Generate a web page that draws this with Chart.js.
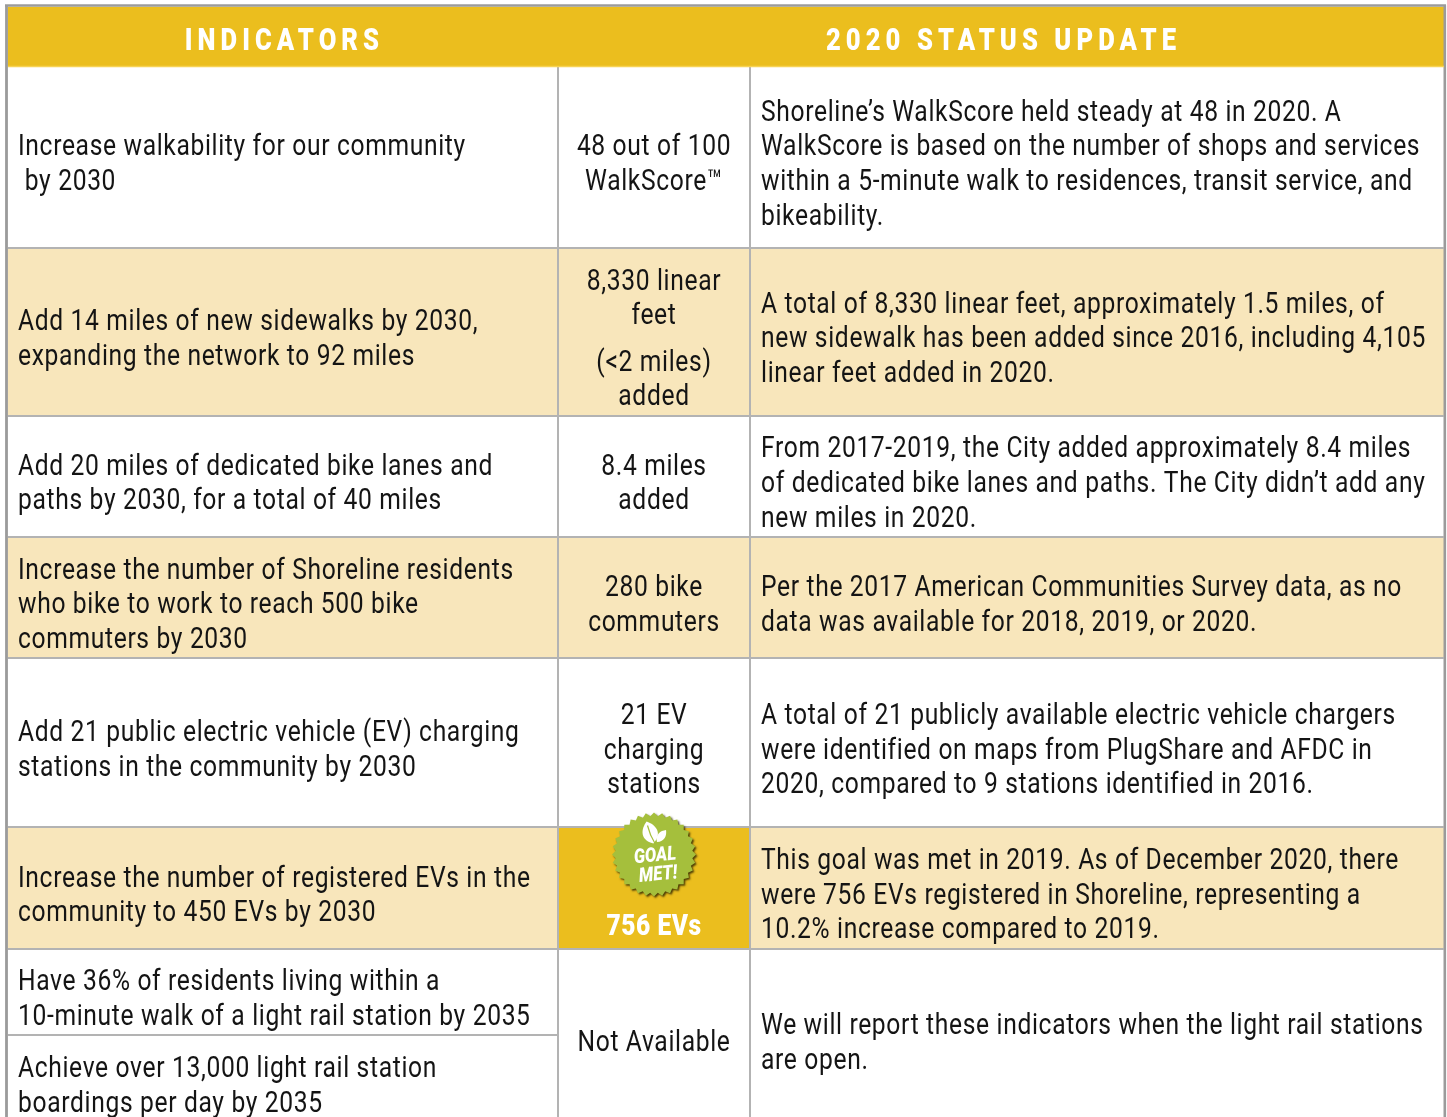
<!DOCTYPE html>
<html><head><meta charset="utf-8">
<style>html,body{margin:0;padding:0;background:#fff}canvas{display:block}</style>
<script src="https://cdn.jsdelivr.net/npm/chart.js@4"></script>
</head><body><canvas id="c" width="1447" height="1117"></canvas>
<script>
const headers = ["INDICATORS", "2020 STATUS UPDATE"];
const indicators = [
 ["Increase walkability for our community", " by 2030"],
 ["Add 14 miles of new sidewalks by 2030,", "expanding the network to 92 miles"],
 ["Add 20 miles of dedicated bike lanes and", "paths by 2030, for a total of 40 miles"],
 ["Increase the number of Shoreline residents", "who bike to work to reach 500 bike", "commuters by 2030"],
 ["Add 21 public electric vehicle (EV) charging", "stations in the community by 2030"],
 ["Increase the number of registered EVs in the", "community to 450 EVs by 2030"],
 ["Have 36% of residents living within a", "10-minute walk of a light rail station by 2035"],
 ["Achieve over 13,000 light rail station", "boardings per day by 2035"]
];
const measures = [
 ["48 out of 100", "WalkScore\u2122"],
 ["8,330 linear", "feet", "(<2 miles)", "added"],
 ["8.4 miles", "added"],
 ["280 bike", "commuters"],
 ["21 EV", "charging", "stations"],
 ["756 EVs"],
 ["Not Available"]
];
const statuses = [
 ["Shoreline\u2019s WalkScore held steady at 48 in 2020. A", "WalkScore is based on the number of shops and services", "within a 5-minute walk to residences, transit service, and", "bikeability."],
 ["A total of 8,330 linear feet, approximately 1.5 miles, of", "new sidewalk has been added since 2016, including 4,105", "linear feet added in 2020."],
 ["From 2017-2019, the City added approximately 8.4 miles", "of dedicated bike lanes and paths. The City didn\u2019t add any", "new miles in 2020."],
 ["Per the 2017 American Communities Survey data, as no", "data was available for 2018, 2019, or 2020."],
 ["A total of 21 publicly available electric vehicle chargers", "were identified on maps from PlugShare and AFDC in", "2020, compared to 9 stations identified in 2016."],
 ["This goal was met in 2019. As of December 2020, there", "were 756 EVs registered in Shoreline, representing a", "10.2% increase compared to 2019."],
 ["We will report these indicators when the light rail stations", "are open."]
];
const badgeLines = ["GOAL", "MET!"];

/* layout */
const indicatorY = [[145,180],[320,355],[465,499],[569,603,638],[731,766],[877,911],[980,1015],[1067,1102]];
const measureY = [[145,180],[280,314,361,395],[465,499],[586,621],[714,749,783],[924],[1041]];
const statusY = [[111,145,180,215],[303,337,372],[447,482,517],[586,621],[714,749,783],[859,894,928],[1024,1059]];
const colX = [8, 558, 750, 1444];
const rowY = [66, 248, 416, 537, 658, 827, 949, 1117];
const rowFill = ["#ffffff", "#f8e6bb", "#ffffff", "#f8e6bb", "#ffffff", "#f8e6bb", "#ffffff"];
const GOLD = "#ebbe1e", LINE = "#b3b3b3", FRAME = "#9b9b9b";

const bars = [];
function band(x0, x1, y0, y1, color, order) {
  bars.push({type:"bar", indexAxis:"y", grouped:false, barThickness:y1-y0, backgroundColor:color, borderWidth:0,
    data:[{x:[x0,x1], y:(y0+y1)/2}], order:order});
}
function rule(x0, y0, x1, y1, color, w) {
  bars.push({type:"line", borderColor:color, borderWidth:w, pointRadius:0, fill:false, tension:0, order:1,
    data:[{x:x0,y:y0},{x:x1,y:y1}]});
}
band(colX[0], colX[3], 7, rowY[0], GOLD, 5);
rowFill.forEach((c,i)=>band(colX[0], colX[3], rowY[i], rowY[i+1], c, 5));
band(colX[1], colX[2], rowY[5], rowY[6], GOLD, 4);
rule(colX[0], 66.5, colX[3], 66.5, "#f7d354", 1.5);
[1,2].forEach(i=>rule(colX[i], rowY[0], colX[i], rowY[7], LINE, 2));
rowY.slice(1,7).forEach(y=>rule(colX[0], y, colX[3], y, LINE, 2));
rule(colX[0], 1035, colX[1], 1035, LINE, 2);
rule(5, 5.5, 1446, 5.5, FRAME, 2.6);
rule(6.5, 5.5, 6.5, 1117, FRAME, 2.8);
rule(1444.8, 5.5, 1444.8, 1117, FRAME, 2.6);

const SX = 0.85, FS = 29, TRACK = "0.75px", BODY = `${FS}px Roboto`;
function stretched(ctx, s, x, y, align, sx) {
  ctx.save();
  ctx.translate(x, y);
  ctx.scale(sx, 1);
  ctx.textAlign = align;
  ctx.textBaseline = "alphabetic";
  ctx.fillText(s, 0, 0);
  ctx.restore();
}
function leaf(ctx, cx, cy, w, h, rot) {
  ctx.save(); ctx.translate(cx, cy); ctx.rotate(rot);
  ctx.beginPath();
  ctx.moveTo(0, h/2);
  ctx.bezierCurveTo(-w*0.75, h*0.2, -w*0.5, -h*0.25, 0, -h/2);
  ctx.bezierCurveTo(w*0.5, -h*0.25, w*0.75, h*0.2, 0, h/2);
  ctx.fill(); ctx.restore();
}
const tablePlugin = {
  id: "tableText",
  afterDatasetsDraw(chart) {
    const {ctx, scales:{x, y}} = chart;
    const X = v => x.getPixelForValue(v), Y = v => y.getPixelForValue(v);
    ctx.save();
    // header
    ctx.fillStyle = "#ffffff";
    ctx.font = "900 32px Roboto";
    ctx.letterSpacing = "6.3px";
    stretched(ctx, headers[0], X(284.5), Y(50), "center", 0.8);
    stretched(ctx, headers[1], X(1003.5), Y(50), "center", 0.8);
    // body
    ctx.letterSpacing = TRACK;
    ctx.font = BODY; ctx.fillStyle = "#141414";
    indicators.forEach((r,i)=>r.forEach((s,j)=>{
      stretched(ctx, s, X(18), Y(indicatorY[i][j]+9.5), "left", SX);
    }));
    measures.forEach((r,i)=>r.forEach((s,j)=>{
      if (i===5) return;
      stretched(ctx, s, X(654), Y(measureY[i][j]+9.5), "center", SX);
    }));
    statuses.forEach((r,i)=>r.forEach((s,j)=>{
      stretched(ctx, s, X(761), Y(statusY[i][j]+9.5), "left", SX);
    }));
    ctx.letterSpacing = "0.6px";
    // 756 EVs
    ctx.font = "900 30px Roboto"; ctx.fillStyle = "#ffffff";
    stretched(ctx, measures[5][0], X(654), Y(934.5), "center", 0.82);
    ctx.letterSpacing = "0px";
    // seal
    const cx = X(654), cy = Y(854.5), n = 32;
    ctx.save();
    ctx.shadowColor = "rgba(50,40,0,0.85)"; ctx.shadowBlur = 2; ctx.shadowOffsetX = 1.5; ctx.shadowOffsetY = 1.5;
    ctx.fillStyle = "#a5bf3c";
    ctx.beginPath();
    for (let k=0;k<n*2;k++){
      const a = k*Math.PI/n, r = k%2 ? 38.5 : 42;
      const px = cx+r*Math.cos(a), py = cy+r*Math.sin(a);
      k ? ctx.lineTo(px,py) : ctx.moveTo(px,py);
    }
    ctx.closePath(); ctx.fill();
    ctx.restore();
    // leaves
    ctx.fillStyle = "#ffffff";
    leaf(ctx, cx-4, cy-22, 16, 23, -0.3);
    leaf(ctx, cx+7.5, cy-18.5, 8, 15, 0.65);
    ctx.strokeStyle = "#a5bf3c"; ctx.lineWidth = 1.2;
    ctx.beginPath(); ctx.moveTo(cx-6.5,cy-29); ctx.quadraticCurveTo(cx-4,cy-19,cx+1,cy-11); ctx.stroke();
    // badge text
    ctx.save();
    ctx.translate(cx, cy+7);
    ctx.rotate(-0.09);
    ctx.font = "italic 900 20px Roboto"; ctx.fillStyle = "#ffffff";
    stretched(ctx, badgeLines[0], 1.5, 0, "center", 0.84);
    stretched(ctx, badgeLines[1], 3, 19, "center", 0.84);
    ctx.restore();
    ctx.restore();
  }
};
document.fonts.load(BODY).then(()=>document.fonts.load("900 30px Roboto")).finally(()=>{
new Chart(document.getElementById("c"), {
  data: {datasets: bars},
  plugins: [tablePlugin],
  options: {
    responsive:false, animation:false, devicePixelRatio:1,
    layout:{padding:0},
    plugins:{legend:{display:false}, tooltip:{enabled:false}, title:{display:false}},
    scales:{
      x:{type:"linear", display:false, min:0, max:1447, offset:false},
      y:{type:"linear", display:false, min:0, max:1117, reverse:true, offset:false}
    }
  }
});
});
</script></body></html>
